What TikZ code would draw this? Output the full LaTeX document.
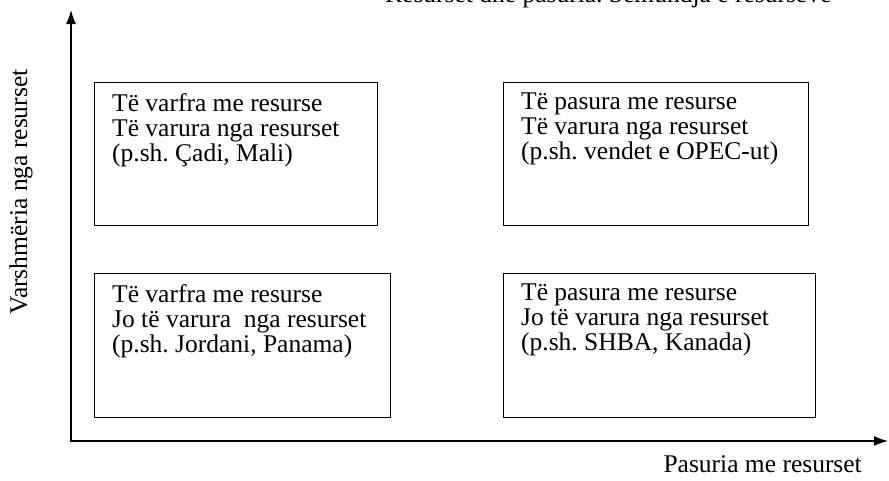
\documentclass[tikz,border=0pt]{standalone}
\usepackage{fontspec}
\setmainfont{Liberation Serif}
\usetikzlibrary{arrows.meta,calc}
\frenchspacing
\begin{document}
\begin{tikzpicture}[x=1pt,y=-1pt,
  quad/.style={draw,line width=1.3pt,inner sep=0pt,anchor=north west},
  txt/.style={font=\fontsize{25.5}{25}\selectfont,align=left,inner sep=0pt,anchor=north west},
  lbl/.style={font=\fontsize{25.5}{25}\selectfont,inner sep=0pt},
  axis/.style={line width=1.3pt,{Latex[length=14pt,width=10pt]}-{Latex[length=14pt,width=10pt]}}]
\useasboundingbox (0,0) rectangle (889,480);
% clipped title at the top edge
\begin{scope}
\clip (0,0) rectangle (889,480);
\node[lbl,anchor=base west] (ttl) at (385,2) {Resurset dhe pasuria. Sëmundja e resurseve};
\end{scope}
% axes
\coordinate (ytip) at (71,10);
\coordinate (o) at (71,441);
\coordinate (xtip) at (888,441);
\draw[axis] (ytip) -- (o) -- (xtip);
\node[lbl,rotate=90] (ylab) at (22,192) {\strut Varshmëria nga resurset};
\node[lbl,anchor=base east] (xlab) at (862,472) {Pasuria me resurset};
% boxes
\node[quad,minimum width=283pt,minimum height=143pt] (tl) at (94,82) {};
\node[quad,minimum width=305pt,minimum height=143pt] (tr) at (503,82) {};
\node[quad,minimum width=296pt,minimum height=144pt] (bl) at (94,273) {};
\node[quad,minimum width=312pt,minimum height=144pt] (br) at (503,273) {};
\node[txt] (tlt) at ($(tl.north west)+(18,11)$) {Të varfra me resurse\\Të varura nga resurset\\(p.sh. Çadi, Mali)};
\node[txt] (trt) at ($(tr.north west)+(18,11)$) {Të pasura me resurse\\Të varura nga resurset\\(p.sh. vendet e OPEC-ut)};
\node[txt] (blt) at ($(bl.north west)+(18,11)$) {Të varfra me resurse\\Jo të varura \ nga resurset\\(p.sh. Jordani, Panama)};
\node[txt] (brt) at ($(br.north west)+(18,11)$) {Të pasura me resurse\\Jo të varura nga resurset\\(p.sh. SHBA, Kanada)};
\end{tikzpicture}
\end{document}
